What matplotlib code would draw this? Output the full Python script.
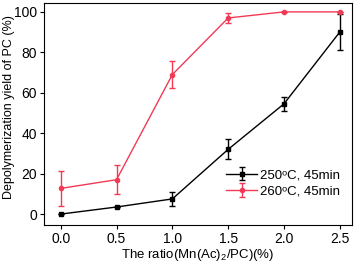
import matplotlib
matplotlib.use('Agg')
import matplotlib.pyplot as plt

plt.rcParams['font.family'] = ['Liberation Sans', 'DejaVu Sans']
plt.rcParams['mathtext.fontset'] = 'custom'
plt.rcParams['mathtext.rm'] = 'Liberation Sans'
plt.rcParams['mathtext.it'] = 'Liberation Sans'

ratio = [0.0, 0.5, 1.0, 1.5, 2.0, 2.5]
yield_250 = [0.0, 3.5, 7.5, 32.0, 54.5, 90.0]
err_250 = [0.0, 0.0, 3.5, 5.0, 3.5, 9.0]
yield_260 = [12.7, 17.0, 69.0, 97.0, 100.0, 100.0]
err_260 = [8.5, 7.3, 6.5, 2.5, 0.0, 0.0]

fig = plt.figure(figsize=(3.54, 2.68), dpi=100)
ax = fig.add_axes([44/354, 43/268, 308/354, 222/268])

ax.errorbar(ratio, yield_250, yerr=err_250, color='black', marker='s', markersize=3,
            lw=1, elinewidth=1, capsize=2.5, label='250\u1d52C, 45min')
ax.errorbar(ratio, yield_260, yerr=err_260, color='#f23a55', marker='o', markersize=3,
            lw=1, elinewidth=1, capsize=2.5, label='260\u1d52C, 45min')

ax.set_xlim(-0.15, 2.61)
ax.set_ylim(-5.4, 104.4)
ax.set_xticks([0.0, 0.5, 1.0, 1.5, 2.0, 2.5])
ax.set_yticks([0, 20, 40, 60, 80, 100])
ax.tick_params(direction='out', length=3, labelsize=10, width=0.8, pad=2)
ax.set_xlabel('The ratio(Mn(Ac)$_2$/PC)(%)', fontsize=9.5)
ax.xaxis.set_label_coords(0.5, -0.1)
ax.set_ylabel('Depolymerization yield of PC (%)', fontsize=9)
ax.yaxis.set_label_coords(-0.093, 0.53)
ax.legend(loc='lower right', frameon=False, fontsize=9.5, handlelength=2.4,
          handletextpad=0.2, labelspacing=0.3, bbox_to_anchor=(1.0, 0.07))

fig.savefig('out.png', dpi=100)
